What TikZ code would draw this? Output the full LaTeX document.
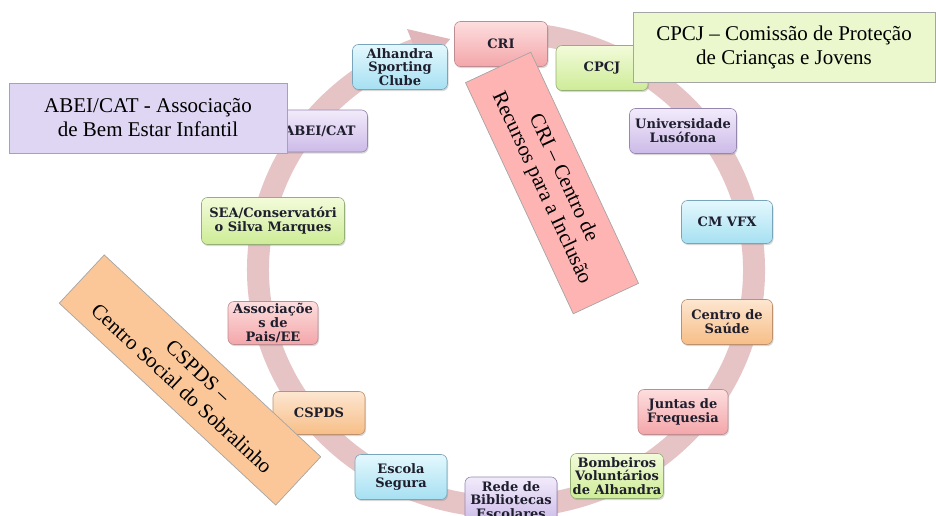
\documentclass[tikz,border=0pt]{standalone}
\usepackage{fontspec}
\setmainfont{Liberation Serif}
\newfontfamily\nodefont{DejaVu Serif}
\usetikzlibrary{shadows}
\definecolor{ringc}{RGB}{230,196,198}
\definecolor{headc}{RGB}{224,182,186}
\definecolor{pinkT}{RGB}{253,222,222}\definecolor{pinkB}{RGB}{243,166,170}\definecolor{pinkD}{RGB}{190,140,145}
\definecolor{greenT}{RGB}{243,251,218}\definecolor{greenB}{RGB}{205,236,150}\definecolor{greenD}{RGB}{150,175,120}
\definecolor{cyanT}{RGB}{228,248,253}\definecolor{cyanB}{RGB}{166,224,242}\definecolor{cyanD}{RGB}{120,165,185}
\definecolor{lavT}{RGB}{242,235,251}\definecolor{lavB}{RGB}{204,186,232}\definecolor{lavD}{RGB}{150,135,175}
\definecolor{oraT}{RGB}{253,230,208}\definecolor{oraB}{RGB}{247,190,135}\definecolor{oraD}{RGB}{190,145,110}
\definecolor{ntext}{RGB}{30,30,45}
\definecolor{cpcjfill}{RGB}{235,248,205}
\definecolor{abeifill}{RGB}{222,214,242}
\definecolor{crifill}{RGB}{255,180,180}
\definecolor{cspdsfill}{RGB}{251,199,153}
\definecolor{noteedge}{RGB}{165,165,165}
\tikzset{
  item/.style={rounded corners=6pt, inner sep=0pt, align=center, text=ntext,
    font=\nodefont\bfseries\fontsize{13}{13.8}\selectfont,
    minimum width=92pt, minimum height=45pt, line width=0.6pt,
    drop shadow={shadow xshift=1pt, shadow yshift=-1.6pt, opacity=0.3}},
  pinkbox/.style={item, top color=pinkT, bottom color=pinkB, draw=pinkD},
  greenbox/.style={item, top color=greenT, bottom color=greenB, draw=greenD},
  cyanbox/.style={item, top color=cyanT, bottom color=cyanB, draw=cyanD},
  lavbox/.style={item, top color=lavT, bottom color=lavB, draw=lavD},
  orabox/.style={item, top color=oraT, bottom color=oraB, draw=oraD},
  note/.style={draw=noteedge, line width=0.7pt, inner sep=0pt, align=center,
    font=\fontsize{21}{24}\selectfont, text=black},
}
\begin{document}
\begin{tikzpicture}[x=1pt,y=-1pt]
\useasboundingbox (0,0) rectangle (936,516);
\clip (0,0) rectangle (936,516);
\fill[white] (0,0) rectangle (936,516);
% ring
\draw[ringc, line width=22pt]
  ({506+248*cos(-100)},{270+237*sin(-100)})
  arc[start angle=-100, end angle=250, x radius=248, y radius=237];
\fill[headc]
  ({506+270*cos(248.5)},{270+259*sin(248.5)}) --
  ({506+226*cos(248.5)},{270+215*sin(248.5)}) --
  ({506+248*cos(257)},{270+237*sin(257)}) -- cycle;
% items
\node[pinkbox, minimum width=93pt] (cri) at (501,44) {CRI};
\node[greenbox] (cpcj) at (602,68) {CPCJ};
\node[cyanbox, minimum width=95pt] (asc) at (400,67) {Alhandra\\Sporting\\Clube};
\node[lavbox, minimum width=95pt, minimum height=42pt] (abei) at (320,131) {ABEI/CAT};
\node[lavbox, minimum width=107pt] (ulus) at (683,131) {Universidade\\Lusófona};
\node[cyanbox, minimum width=91pt, minimum height=43pt] (cmvfx) at (727,222) {CM VFX};
\node[orabox, minimum width=91pt] (saude) at (727,322) {Centro de\\Saúde};
\node[pinkbox, minimum width=90pt] (juntas) at (683,412) {Juntas de\\Frequesia};
\node[greenbox, minimum width=93pt] (bomb) at (617,476) {Bombeiros\\Voluntários\\de Alhandra};
\node[lavbox, minimum height=46pt] (rede) at (511,500) {Rede de\\Bibliotecas\\Escolares};
\node[cyanbox] (escola) at (401,477) {Escola\\Segura};
\node[orabox, minimum height=43pt] (cspds) at (319,413) {CSPDS};
\node[pinkbox, minimum width=90pt, minimum height=43pt] (assoc) at (273,323) {Associaçõe\\s de\\Pais/EE};
\node[greenbox, minimum width=143pt, minimum height=47pt] (sea) at (273,221) {SEA/Conservatóri\\o Silva Marques};
% notes
\node[note, fill=cpcjfill, minimum width=302pt, minimum height=70pt] (cpcjnote) at (784,47)
  {CPCJ – Comissão de Proteção\\de Crianças e Jovens};
\node[note, fill=abeifill, minimum width=278pt, minimum height=70pt] (abeinote) at (148,118)
  {ABEI/CAT - Associação\\de Bem Estar Infantil};
\node[note, fill=crifill, minimum width=255pt, minimum height=72pt, rotate=-65] (crinote) at (552,183)
  {CRI – Centro de\\Recursos para a Inclusão};
\node[note, fill=cspdsfill, minimum width=296pt, minimum height=66pt, rotate=-43] (cspdsnote) at (190,380)
  {CSPDS –\\Centro Social do Sobralinho};
\end{tikzpicture}
\end{document}
